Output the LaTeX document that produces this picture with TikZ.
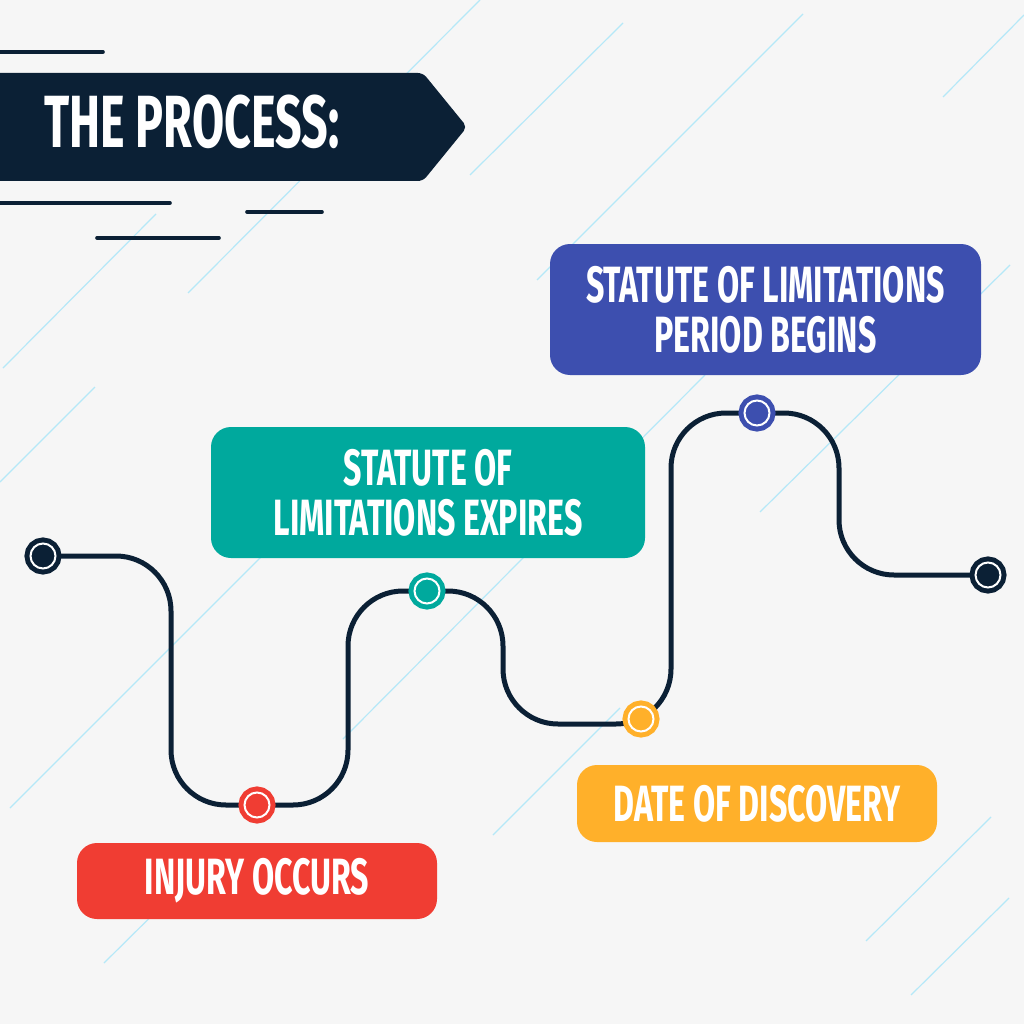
\documentclass[tikz,border=0pt]{standalone}
\usepackage{fontspec}
\newfontfamily\bebas[FakeStretch=0.63]{Fira Sans}
\definecolor{navy}{HTML}{0B2035}
\definecolor{paper}{HTML}{F6F6F6}
\definecolor{hatchblue}{HTML}{B5E8F8}
\definecolor{periodblue}{HTML}{3D4FAF}
\definecolor{expiresteal}{HTML}{00A99D}
\definecolor{injuryred}{HTML}{F03D33}
\definecolor{discoveryyellow}{HTML}{FFB02A}
\pgfdeclarelayer{back}
\pgfsetlayers{back,main}

\begin{document}
\begin{tikzpicture}[x=1pt, y=-1pt,
  hatch/.style={draw=hatchblue, line width=1.2pt},
  speed/.style={draw=navy, line width=3.6pt, line cap=round},
  stage/.style={fill=#1, rounded corners=20pt, text=white, align=center,
    font=\bebas\bfseries\fontsize{51}{50}\selectfont, inner sep=0pt},
  dot/.style={circle, fill=#1, draw=#1, double=white, double distance=2pt,
    line width=5pt, minimum size=25pt, inner sep=0pt},
  track/.style={draw=navy, line width=5pt, rounded corners=55pt}
]
\useasboundingbox (0,0) rectangle (1024,1024);
\begin{pgfonlayer}{back}
  \fill[paper] (0,0) rectangle (1024,1024);
  % diagonal background strokes
  \foreach \xa/\ya/\xb/\yb in {480/0/188/293, 623/23/470/175, 156/214/3/368,
      95/387/0/482, 803/14/537/280, 1024/15/943/97, 1010/265/760/512,
      705/375/343/739, 262/556/10/808, 200/868/104/963, 620/708/493/835,
      991/817/866/941, 1009/898/911/995}
    \draw[hatch] (\xa,\ya) -- (\xb,\yb);
\end{pgfonlayer}

% title banner
\fill[navy, rounded corners=5pt] (-10,73) -- (423,73) -- (467,127) -- (423,181) -- (-10,181) -- cycle;
\node[anchor=base west, inner sep=0pt, text=white,
  font=\bebas\bfseries\fontsize{74}{74}\selectfont] (title) at (44,148) {THE PROCESS:};
\draw[speed] (0,52) -- (103,52);
\draw[speed] (0,203) -- (170,203);
\draw[speed] (247,212) -- (322,212);
\draw[speed] (97,238) -- (219,238);

% stage boxes
\node[stage=periodblue, minimum width=431pt, minimum height=131pt] (period) at (765.5,309.5)
  {STATUTE OF LIMITATIONS\\PERIOD BEGINS};
\node[stage=expiresteal, minimum width=434pt, minimum height=131pt] (expiry) at (428,492.5)
  {STATUTE OF\\LIMITATIONS EXPIRES};
\node[stage=injuryred, minimum width=360pt, minimum height=76pt] (occurs) at (257,881)
  {INJURY OCCURS};
\node[stage=discoveryyellow, minimum width=360pt, minimum height=77pt] (date) at (757,803.5)
  {DATE OF DISCOVERY};

% milestones
\node[dot=navy] (start) at (43,556) {};
\node[dot=injuryred] (injury) at (257,805) {};
\node[dot=expiresteal] (expires) at (427,591) {};
\node[dot=discoveryyellow] (discovery) at (641,719) {};
\node[dot=periodblue] (begins) at (757,413) {};
\node[dot=navy] (finish) at (988,575) {};

\begin{pgfonlayer}{back}
  \draw[track] (start.center) -- ++(128,0) |- (injury.center);
  \draw[track] (injury.center) -- ++(91,0) |- (expires.center);
  \draw[track] (expires.center) -- ++(76,0) -- ++(0,133) -| ++(168,-311)
    -- (begins.center);
  \draw[track] (begins.center) -- ++(82,0) |- (finish.center);
\end{pgfonlayer}
\end{tikzpicture}
\end{document}
